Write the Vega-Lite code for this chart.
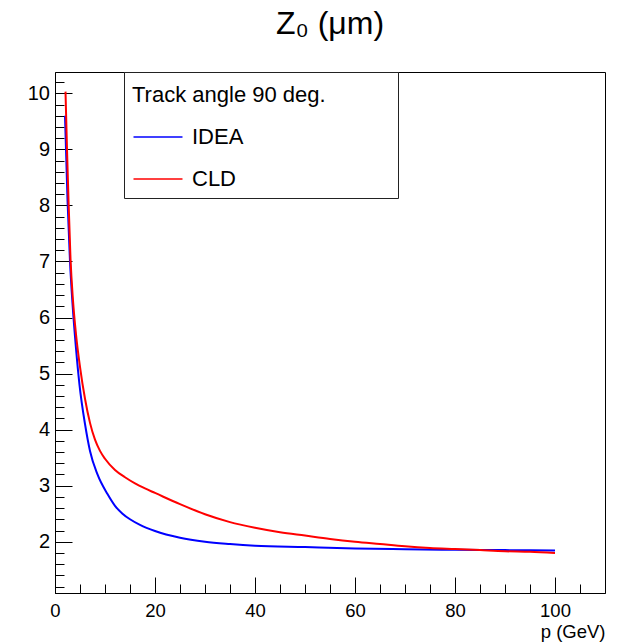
{
  "$schema": "https://vega.github.io/schema/vega-lite/v6.json",
  "width": 550,
  "height": 521,
  "autosize": "none",
  "padding": {"left": 55, "top": 72, "right": 19, "bottom": 49},
  "background": "white",
  "title": {"text": "Z₀ (μm)", "fontSize": 32, "font": "Liberation Sans", "fontWeight": "normal", "color": "black", "anchor": "middle", "frame": "group", "baseline": "alphabetic", "offset": 6},
  "config": {
    "view": {"stroke": "black", "strokeWidth": 1},
    "font": "Liberation Sans"
  },
  "data": {"values": [
    {"p": 2.0, "z": 9.6, "det": "IDEA"},
    {"p": 2.5, "z": 8.1, "det": "IDEA"},
    {"p": 3.0, "z": 7.0, "det": "IDEA"},
    {"p": 3.5, "z": 6.25, "det": "IDEA"},
    {"p": 4.2, "z": 5.45, "det": "IDEA"},
    {"p": 4.9, "z": 4.8, "det": "IDEA"},
    {"p": 6, "z": 4.1, "det": "IDEA"},
    {"p": 7, "z": 3.62, "det": "IDEA"},
    {"p": 8.5, "z": 3.2, "det": "IDEA"},
    {"p": 10.5, "z": 2.85, "det": "IDEA"},
    {"p": 12, "z": 2.64, "det": "IDEA"},
    {"p": 13.5, "z": 2.5, "det": "IDEA"},
    {"p": 15, "z": 2.4, "det": "IDEA"},
    {"p": 17, "z": 2.3, "det": "IDEA"},
    {"p": 20, "z": 2.19, "det": "IDEA"},
    {"p": 25, "z": 2.07, "det": "IDEA"},
    {"p": 30, "z": 2.0, "det": "IDEA"},
    {"p": 35, "z": 1.96, "det": "IDEA"},
    {"p": 40, "z": 1.93, "det": "IDEA"},
    {"p": 50, "z": 1.905, "det": "IDEA"},
    {"p": 60, "z": 1.88, "det": "IDEA"},
    {"p": 70, "z": 1.865, "det": "IDEA"},
    {"p": 80, "z": 1.855, "det": "IDEA"},
    {"p": 90, "z": 1.85, "det": "IDEA"},
    {"p": 100, "z": 1.845, "det": "IDEA"},
    {"p": 2.1, "z": 10.03, "det": "CLD"},
    {"p": 2.4, "z": 9.0, "det": "CLD"},
    {"p": 2.7, "z": 8.1, "det": "CLD"},
    {"p": 3.1, "z": 7.05, "det": "CLD"},
    {"p": 3.6, "z": 6.3, "det": "CLD"},
    {"p": 4.2, "z": 5.7, "det": "CLD"},
    {"p": 5, "z": 5.12, "det": "CLD"},
    {"p": 6, "z": 4.55, "det": "CLD"},
    {"p": 7, "z": 4.12, "det": "CLD"},
    {"p": 8, "z": 3.82, "det": "CLD"},
    {"p": 9, "z": 3.62, "det": "CLD"},
    {"p": 10, "z": 3.48, "det": "CLD"},
    {"p": 12, "z": 3.28, "det": "CLD"},
    {"p": 14, "z": 3.15, "det": "CLD"},
    {"p": 16, "z": 3.04, "det": "CLD"},
    {"p": 18, "z": 2.95, "det": "CLD"},
    {"p": 20, "z": 2.87, "det": "CLD"},
    {"p": 25, "z": 2.67, "det": "CLD"},
    {"p": 30, "z": 2.49, "det": "CLD"},
    {"p": 35, "z": 2.35, "det": "CLD"},
    {"p": 40, "z": 2.25, "det": "CLD"},
    {"p": 45, "z": 2.17, "det": "CLD"},
    {"p": 50, "z": 2.11, "det": "CLD"},
    {"p": 55, "z": 2.05, "det": "CLD"},
    {"p": 60, "z": 2.0, "det": "CLD"},
    {"p": 65, "z": 1.96, "det": "CLD"},
    {"p": 70, "z": 1.92, "det": "CLD"},
    {"p": 75, "z": 1.89, "det": "CLD"},
    {"p": 80, "z": 1.87, "det": "CLD"},
    {"p": 85, "z": 1.85, "det": "CLD"},
    {"p": 90, "z": 1.83, "det": "CLD"},
    {"p": 95, "z": 1.82, "det": "CLD"},
    {"p": 100, "z": 1.8, "det": "CLD"}
  ]},
  "mark": {"type": "line", "strokeWidth": 2, "interpolate": "monotone"},
  "encoding": {
    "x": {
      "field": "p", "type": "quantitative",
      "scale": {"domain": [0, 110], "nice": false, "zero": false},
      "axis": {
        "values": [0, 5, 10, 15, 20, 25, 30, 35, 40, 45, 50, 55, 60, 65, 70, 75, 80, 85, 90, 95, 100, 105],
        "labelExpr": "datum.value % 20 === 0 ? format(datum.value, 'd') : ''",
        "tickSize": {"condition": {"test": "datum.value % 20 === 0", "value": -16}, "value": -9},
        "labelPadding": 24.7,
        "labelFontSize": 18.5, "labelFont": "Liberation Sans", "labelColor": "black",
        "labelOverlap": false, "labelFlush": false, "labelBound": false,
        "tickColor": "black", "domainColor": "black", "grid": false,
        "title": "p (GeV)", "titleFont": "Liberation Sans", "titleFontSize": 18.5, "titleFontWeight": "normal", "titleColor": "black",
        "titleAnchor": "end", "titleAlign": "right", "titleBaseline": "alphabetic", "titleY": 44
      }
    },
    "y": {
      "field": "z", "type": "quantitative",
      "scale": {"domain": [1.085, 10.38], "nice": false, "zero": false},
      "axis": {
        "values": [1.2, 1.4, 1.6, 1.8, 2, 2.2, 2.4, 2.6, 2.8, 3, 3.2, 3.4, 3.6, 3.8, 4, 4.2, 4.4, 4.6, 4.8, 5, 5.2, 5.4, 5.6, 5.8, 6, 6.2, 6.4, 6.6, 6.8, 7, 7.2, 7.4, 7.6, 7.8, 8, 8.2, 8.4, 8.6, 8.8, 9, 9.2, 9.4, 9.6, 9.8, 10, 10.2],
        "labelExpr": "datum.value === round(datum.value) ? format(datum.value, 'd') : ''",
        "tickSize": {"condition": {"test": "datum.value === round(datum.value)", "value": -17}, "value": -9},
        "labelPadding": 22.5,
        "labelFontSize": 20, "labelFont": "Liberation Sans", "labelColor": "black",
        "labelOverlap": false, "labelFlush": false, "labelBound": false,
        "tickColor": "black", "domainColor": "black", "grid": false,
        "title": null
      }
    },
    "color": {
      "field": "det", "type": "nominal",
      "scale": {"domain": ["IDEA", "CLD"], "range": ["#0000ff", "#ff0000"]},
      "legend": {
        "orient": "none", "legendX": 69, "legendY": 0, "direction": "vertical",
        "title": "Track angle 90 deg.\u2800\u2800\u2800\u2800",
        "titleLimit": 500,
        "titleFont": "Liberation Sans", "titleFontSize": 22, "titleFontWeight": "normal", "titleColor": "black", "titlePadding": 22,
        "titleBaseline": "line-top", "titleLineHeight": 31,
        "labelFont": "Liberation Sans", "labelFontSize": 22, "labelColor": "black", "labelOffset": 21,
        "symbolType": "M-2,0H2", "symbolSize": 600, "symbolStrokeWidth": 1.5, "symbolOffset": 13,
        "padding": 8, "rowPadding": 18, "strokeColor": "#222222", "fillColor": "white", "cornerRadius": 0, "offset": 0
      }
    }
  }
}
